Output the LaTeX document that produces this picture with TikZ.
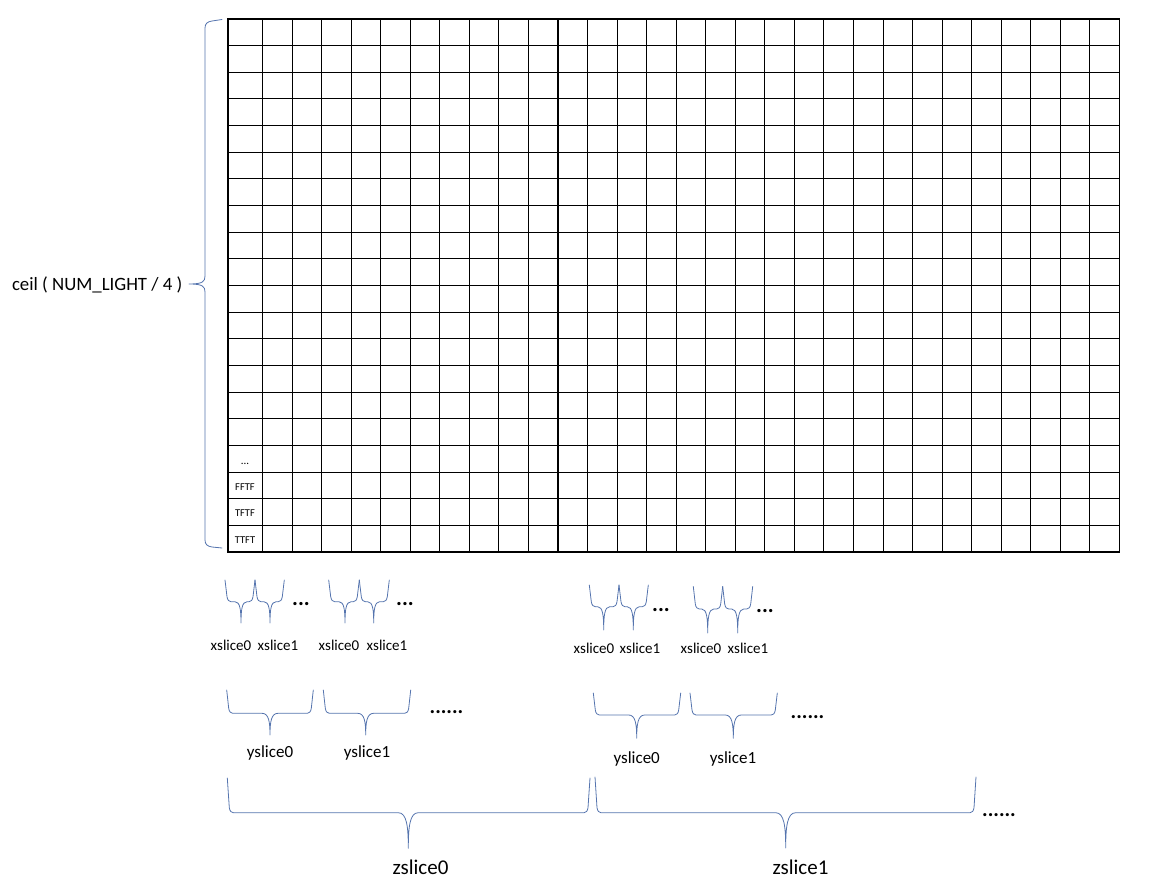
\documentclass[tikz,border=0pt]{standalone}
\usepackage{fontspec}
\setmainfont{Carlito}
\definecolor{braceblue}{HTML}{5574AE}
\tikzset{
  gridline/.style={draw=black,line width=1.05pt},
  bracestyle/.style={draw=braceblue,line width=0.8pt,line join=round,line cap=round},
  lbl/.style={inner sep=0pt,anchor=base,text=black},
}
% xl xr xm ytop ybar ytip tip-halfwidth
\newcommand{\mybrace}[7]{%
  \draw[bracestyle] (#1,#4) -- ({#1+2},{#5-5}) .. controls ({#1+2.6},{#5-1.5}) and ({#1+4},{#5}) .. ({#1+6},{#5})
    -- ({#3-#7},{#5}) .. controls ({#3-0.15*#7},{#5}) and ({#3},{#5+0.4*(#6-#5)}) .. (#3,#6)
    .. controls ({#3},{#5+0.4*(#6-#5)}) and ({#3+0.15*#7},{#5}) .. ({#3+#7},{#5})
    -- ({#2-6},{#5}) .. controls ({#2-4},{#5}) and ({#2-2.6},{#5-1.5}) .. ({#2-2},{#5-5}) -- (#2,#4);
}
\begin{document}
\begin{tikzpicture}[x=1pt,y=-1pt]
\useasboundingbox (0,0) rectangle (1149,893);
% grid
\draw[gridline] (228,19) rectangle (1119.45,552);
\foreach \k in {0,...,28} \draw[gridline] ({262.5+\k*29.55},19) -- ({262.5+\k*29.55},552);
\foreach \j in {1,...,19} \draw[gridline] (228,{19+\j*26.65}) -- (1119.45,{19+\j*26.65});
% cell labels
\node[lbl,font=\fontsize{11}{11}\selectfont] (c17) at (245,464) {...};
\node[lbl,font=\fontsize{10.5}{11}\selectfont] (c18) at (245,490) {FFTF};
\node[lbl,font=\fontsize{10.5}{11}\selectfont] (c19) at (245,516.7) {TFTF};
\node[lbl,font=\fontsize{10.5}{11}\selectfont] (c20) at (245,543.3) {TTFT};
% left vertical brace
\draw[bracestyle] (222,19.5) -- (212,21) .. controls (207.5,21.7) and (205,23.5) .. (205,28)
  -- (205,276) .. controls (205,281.5) and (203,284) .. (189,284)
  .. controls (203,284) and (205,286.5) .. (205,292)
  -- (205,540) .. controls (205,544.5) and (207.5,546.3) .. (212,547) -- (222,548);
\node[lbl,font=\fontsize{18.8}{19}\selectfont] (ceil) at (97.2,290.5) {ceil ( NUM\_LIGHT / 4 )};
% xslice braces, group 1
\mybrace{225}{255}{241}{580}{601.7}{623}{6}
\mybrace{255}{284.3}{270}{580}{601.7}{623}{6}
\mybrace{328.7}{359.3}{345}{580}{601.7}{623}{6}
\mybrace{359.3}{389.3}{373.7}{580}{601.7}{623}{6}
\node[lbl,font=\fontsize{22}{22}\selectfont\bfseries] (d1) at (301,605) {...};
\node[lbl,font=\fontsize{22}{22}\selectfont\bfseries] (d2) at (405,605) {...};
\node[lbl,font=\fontsize{15}{15}\selectfont] (xa0) at (231,650) {xslice0};
\node[lbl,font=\fontsize{15}{15}\selectfont] (xa1) at (278,650) {xslice1};
\node[lbl,font=\fontsize{15}{15}\selectfont] (xb0) at (339,650) {xslice0};
\node[lbl,font=\fontsize{15}{15}\selectfont] (xb1) at (387,650) {xslice1};
% xslice braces, group 2
\mybrace{589.3}{619}{603.7}{585}{606.7}{630}{6}
\mybrace{619}{648.3}{633.3}{585}{606.7}{630}{6}
\mybrace{693.3}{722.7}{707.7}{586.5}{609}{633}{6}
\mybrace{722.7}{752.7}{737.7}{586.5}{609}{633}{6}
\node[lbl,font=\fontsize{22}{22}\selectfont\bfseries] (d3) at (661,611) {...};
\node[lbl,font=\fontsize{22}{22}\selectfont\bfseries] (d4) at (765,612) {...};
\node[lbl,font=\fontsize{15}{15}\selectfont] (xc0) at (594,653) {xslice0};
\node[lbl,font=\fontsize{15}{15}\selectfont] (xc1) at (640,653) {xslice1};
\node[lbl,font=\fontsize{15}{15}\selectfont] (xd0) at (701,653) {xslice0};
\node[lbl,font=\fontsize{15}{15}\selectfont] (xd1) at (748,653) {xslice1};
% yslice braces
\mybrace{226.7}{313.3}{270}{690}{713.3}{735}{8}
\mybrace{323.3}{410.7}{365.7}{690}{713.3}{735}{8}
\mybrace{593.3}{680.7}{636.7}{693}{715}{738.3}{8}
\mybrace{690}{777.3}{733.3}{693}{715}{738.3}{8}
\node[lbl,font=\fontsize{21}{21}\selectfont\bfseries] (d5) at (446.5,713) {......};
\node[lbl,font=\fontsize{21}{21}\selectfont\bfseries] (d6) at (807.5,718) {......};
\node[lbl,font=\fontsize{17}{17}\selectfont] (ya0) at (270,757.3) {yslice0};
\node[lbl,font=\fontsize{17}{17}\selectfont] (ya1) at (367,757.3) {yslice1};
\node[lbl,font=\fontsize{17}{17}\selectfont] (yb0) at (636.7,763) {yslice0};
\node[lbl,font=\fontsize{17}{17}\selectfont] (yb1) at (733,763) {yslice1};
% zslice braces
\mybrace{227.3}{590}{408.3}{778}{812.7}{848.3}{10}
\mybrace{595}{976}{785.7}{777}{812.7}{848}{10}
\node[lbl,font=\fontsize{21}{21}\selectfont\bfseries] (d7) at (999,816.7) {......};
\node[lbl,font=\fontsize{21}{21}\selectfont] (za) at (420.5,874) {zslice0};
\node[lbl,font=\fontsize{21}{21}\selectfont] (zb) at (800.5,874) {zslice1};
\end{tikzpicture}
\end{document}
